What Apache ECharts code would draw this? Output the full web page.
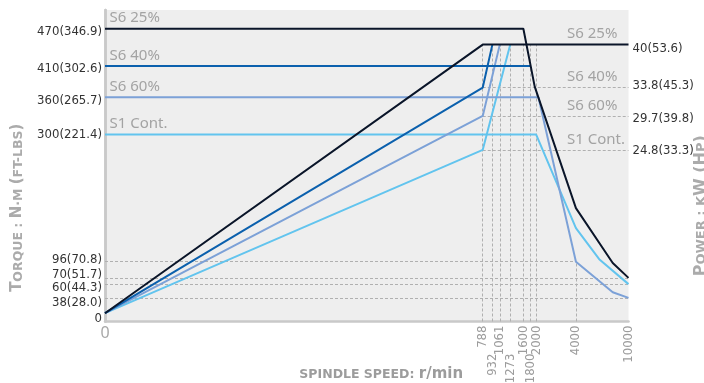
<!DOCTYPE html>
<html>
<head>
<meta charset="utf-8">
<script src="https://cdn.jsdelivr.net/npm/echarts@6/dist/echarts.min.js"></script>
<style>
  html, body { margin: 0; padding: 0; background: #fff; }
  #chart { width: 704px; height: 383px; }
</style>
</head>
<body>
<div id="chart"></div>
<script>
// speed axis: linear up to 788 r/min, logarithmic after
const SPEED_BREAK = 788;
const SPEED_DECADE = 0.3497;
function sp(rpm) {
  return rpm <= SPEED_BREAK ? rpm / SPEED_BREAK : 1 + SPEED_DECADE * Math.log10(rpm / SPEED_BREAK);
}

// tick labels
const speedRowA = [788, 1061, 1600, 2000, 4000, 10000];
const speedRowB = [932, 1273, 1800];
const torqueTicks = [0, 38, 60, 70, 96, 300, 360, 410, 470];
const torqueFtLbs = ['', '28.0', '44.3', '51.7', '70.8', '221.4', '265.7', '302.6', '346.9'];
const powerTicks = [24.8, 29.7, 33.8, 40];
const powerHp = ['33.3', '39.8', '45.3', '53.6'];

// duty ratings (S1, S6 60%, S6 40%, S6 25%)
const dutyNames = ['S1 Cont.', 'S6 60%', 'S6 40%', 'S6 25%'];
const dutyTorque = [300, 360, 410, 470];
const dutyPower = [24.8, 29.7, 33.8, 40];

// torque curves (N·m)
const s1TorqueSpeed = [0, 2000, 4000, 6000, 10000];
const s1TorqueVal = [300, 300, 150, 100, 60];
const s60TorqueSpeed = [0, 2080, 4000, 7600, 10000];
const s60TorqueVal = [360, 360, 96, 47, 38];
const s40TorqueSpeed = [0, 1800];
const s40TorqueVal = [410, 410];
const s25TorqueSpeed = [0, 1600, 1950, 4000, 7600, 10000];
const s25TorqueVal = [470, 470, 377, 182, 94, 70];

// power curves (kW)
const s1PowerSpeed = [0, 788, 1273];
const s1PowerVal = [1.2, 24.8, 40];
const s60PowerSpeed = [0, 788, 1061];
const s60PowerVal = [1.2, 29.7, 40];
const s40PowerSpeed = [0, 788, 932];
const s40PowerVal = [1.2, 33.8, 40];
const s25PowerSpeed = [0, 788, 10000];
const s25PowerVal = [1.2, 40, 40];

// dashed guides
const guideSpeedsToPower = [788, 932, 1061, 1273, 1600, 1800, 2000];
const guideTorqueFull = [38, 60, 70];

const NARROW = '"Liberation Sans Narrow", "DejaVu Sans Condensed", "Liberation Sans", sans-serif';
const SANS = '"Noto Sans", "Open Sans", sans-serif';
const TITLE = '"DejaVu Sans", sans-serif';
const colors = ['#62c4ee', '#7ca1d7', '#0b60ad', '#0a1529'];
const GUIDE = { type: [3, 2], color: '#b0b0b0', width: 1 };

// small vertical shifts of the crowded left labels (px, + = down)
const torqueNudge = [-3, 5, 4, -3, -2, 0, 3, 3, 3];
const powerNudge = [1, 3, -2, 4];

function pairs(xs, ys) {
  return xs.map(function (s, i) { return [sp(s), ys[i]]; });
}
function nudgeRich(list) {
  const rich = {};
  list.forEach(function (n, i) {
    rich['n' + i] = {
      fontFamily: NARROW, fontSize: 13, color: '#333',
      padding: n > 0 ? [2 * n, 0, 0, 0] : [0, 0, -2 * n, 0]
    };
  });
  return rich;
}
function findIdx(arr, v) {
  for (let i = 0; i < arr.length; i++) {
    if (Math.abs(arr[i] - v) < 1e-6) return i;
  }
  return -1;
}
function nameRich(big, small) {
  const base = { fontFamily: TITLE, fontWeight: 'bold', color: '#ababab', lineHeight: 18, verticalAlign: 'bottom' };
  return {
    a: Object.assign({}, base, { fontSize: big }),
    b: Object.assign({}, base, { fontSize: small })
  };
}

const chart = echarts.init(document.getElementById('chart'));

const speedMax = sp(10000);

function speedAxis(values, margin) {
  return {
    type: 'value',
    min: 0,
    max: speedMax,
    position: 'bottom',
    axisLine: { show: false },
    axisTick: { show: false },
    splitLine: { show: false },
    axisLabel: {
      customValues: values.map(sp),
      hideOverlap: false,
      rotate: 90,
      margin: margin,
      color: '#9c9c9c',
      fontFamily: NARROW,
      fontSize: 13,
      formatter: function (v) {
        const all = speedRowA.concat(speedRowB);
        const i = findIdx(all.map(sp), v);
        return i >= 0 ? String(all[i]) : '';
      }
    }
  };
}

function curve(name, xs, ys, axis, color) {
  return {
    name: name,
    type: 'line',
    yAxisIndex: axis,
    data: pairs(xs, ys),
    showSymbol: false,
    symbol: 'none',
    z: 5,
    lineStyle: { color: color, width: 2 },
    animation: false,
    silent: true
  };
}

function dutyLabel(idx, coord, pos) {
  return {
    symbol: 'circle',
    symbolSize: 1,
    itemStyle: { color: 'rgba(0,0,0,0)' },
    label: {
      show: true,
      position: pos,
      formatter: dutyNames[idx],
      color: '#a3a3a3',
      fontFamily: SANS,
      fontSize: 15,
      lineHeight: 18
    },
    data: [{ coord: coord }]
  };
}

const series = [];
const torqueSets = [[s1TorqueSpeed, s1TorqueVal], [s60TorqueSpeed, s60TorqueVal], [s40TorqueSpeed, s40TorqueVal], [s25TorqueSpeed, s25TorqueVal]];
const powerSets = [[s1PowerSpeed, s1PowerVal], [s60PowerSpeed, s60PowerVal], [s40PowerSpeed, s40PowerVal], [s25PowerSpeed, s25PowerVal]];

// guide lines first, under the curves
series.push({
  type: 'line', yAxisIndex: 0, data: [], z: 1, silent: true, animation: false,
  markLine: {
    symbol: ['none', 'none'], silent: true, animation: false, label: { show: false },
    lineStyle: GUIDE,
    data: guideTorqueFull.map(function (t) {
      return [{ coord: [0, t] }, { coord: [speedMax, t] }];
    }).concat([
      [{ coord: [0, 96] }, { coord: [sp(4000), 96] }],
      [{ coord: [sp(4000), 0] }, { coord: [sp(4000), 96] }]
    ])
  }
});
series.push({
  type: 'line', yAxisIndex: 1, data: [], z: 1, silent: true, animation: false,
  markLine: {
    symbol: ['none', 'none'], silent: true, animation: false, label: { show: false },
    lineStyle: GUIDE,
    data: guideSpeedsToPower.map(function (s) {
      return [{ coord: [sp(s), 0] }, { coord: [sp(s), 40] }];
    }).concat(dutyPower.slice(0, 3).map(function (p) {
      return [{ coord: [sp(788), p] }, { coord: [speedMax, p] }];
    }))
  }
});

for (let i = 0; i < 4; i++) {
  const t = curve(dutyNames[i] + ' torque', torqueSets[i][0], torqueSets[i][1], 0, colors[i]);
  t.markPoint = dutyLabel(i, [0, dutyTorque[i]], [5, -19]);
  const p = curve(dutyNames[i] + ' power', powerSets[i][0], powerSets[i][1], 1, colors[i]);
  p.markPoint = dutyLabel(i, [speedMax, dutyPower[i]], [-61, -19]);
  series.push(t, p);
}

chart.setOption({
  animation: false,
  grid: {
    left: 105, right: 75.5, top: 10, bottom: 61.5,
    show: true, backgroundColor: '#eeeeee', borderWidth: 0,
    outerBoundsMode: 'none'
  },
  xAxis: [
    {
      type: 'value',
      min: 0,
      max: speedMax,
      position: 'bottom',
      axisLine: { show: true, lineStyle: { color: '#c9c9c9', width: 2.5 } },
      axisTick: { show: false },
      splitLine: { show: false },
      axisLabel: {
        customValues: [0],
        showMinLabel: true,
        formatter: function () { return '0'; },
        color: '#a8a8a8', fontFamily: SANS, fontSize: 16, margin: 4
      },
      name: '{c|SPINDLE SPEED: }{d|r/min}',
      nameLocation: 'middle',
      nameGap: 42,
      nameMoveOverlap: false,
      nameTextStyle: {
        padding: [0, 0, 0, 29],
        rich: {
          c: { fontFamily: TITLE, fontWeight: 'bold', fontSize: 12.5, color: '#9c9c9c', lineHeight: 18, verticalAlign: 'bottom' },
          d: { fontFamily: TITLE, fontWeight: 'bold', fontSize: 15, color: '#9c9c9c', lineHeight: 18, verticalAlign: 'bottom' }
        }
      }
    },
    speedAxis(speedRowA, 4),
    speedAxis(speedRowB, 32)
  ],
  yAxis: [
    {
      type: 'value',
      min: 0,
      max: 500,
      position: 'left',
      axisLine: { show: true, lineStyle: { color: '#c9c9c9', width: 2.5 } },
      axisTick: { show: false },
      splitLine: { show: false },
      axisLabel: {
        customValues: torqueTicks,
        hideOverlap: false,
        showMinLabel: true,
        margin: 3,
        formatter: function (v) {
          const i = findIdx(torqueTicks, v);
          const txt = torqueFtLbs[i] ? v + '(' + torqueFtLbs[i] + ')' : String(v);
          return '{n' + i + '|' + txt + '}';
        },
        rich: nudgeRich(torqueNudge)
      },
      name: '{a|T}{b|ORQUE : }{a|N}{b|·M }{a|(}{b|FT-LBS}{a|)}',
      nameLocation: 'middle',
      nameGap: 80,
      nameMoveOverlap: false,
      nameTextStyle: {
        padding: [0, 84, 0, 0],
        rich: nameRich(15, 12.5)
      }
    },
    {
      type: 'value',
      min: 0,
      max: 45,
      position: 'right',
      axisLine: { show: true, lineStyle: { color: '#c9c9c9', width: 2.5 } },
      axisTick: { show: false },
      splitLine: { show: false },
      axisLabel: {
        customValues: powerTicks,
        hideOverlap: false,
        margin: 4,
        formatter: function (v) {
          const i = findIdx(powerTicks, v);
          return '{n' + i + '|' + v + '(' + powerHp[i] + ')}';
        },
        rich: nudgeRich(powerNudge)
      },
      name: '{a|P}{b|OWER : K}{a|W (H}{b|P}{a|)}',
      nameLocation: 'middle',
      nameRotate: 90,
      nameGap: 62,
      nameMoveOverlap: false,
      nameTextStyle: {
        padding: [0, 80, 0, 0],
        rich: nameRich(16, 13)
      }
    }
  ],
  series: series
});
</script>
</body>
</html>
